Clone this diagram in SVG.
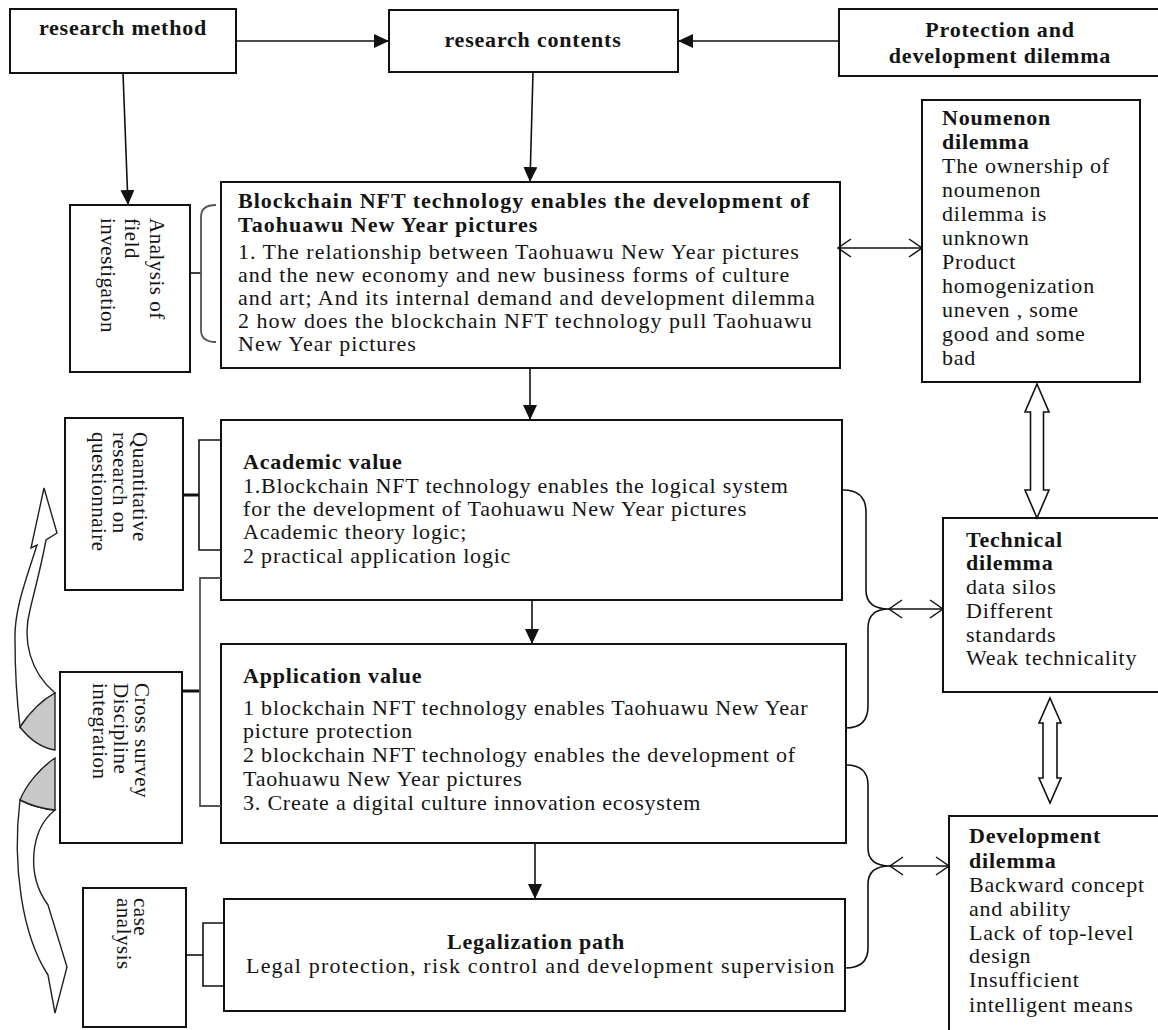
<svg xmlns="http://www.w3.org/2000/svg" width="1158" height="1030" viewBox="0 0 1158 1030">
<style>
.box{fill:#fff;stroke:#111;stroke-width:2}
.t{font-family:"Liberation Serif","Times New Roman",serif;font-size:22px;letter-spacing:0.8px;fill:#141414}
.b{font-weight:bold}
.w{letter-spacing:1px}
.r{font-size:21px;letter-spacing:0.5px}
.ln{stroke:#111;stroke-width:1.6;fill:none}
.gl{stroke:#555;stroke-width:1.8;fill:none}
.stub{stroke:#111;stroke-width:3;fill:none}
.hol{fill:#fff;stroke:#111;stroke-width:1.6}
.ca{fill:#fff;stroke:#222;stroke-width:1.4}
.cg{fill:#c8c8c8;stroke:#222;stroke-width:1.4}
</style>
<defs>
<marker id="ah" markerUnits="userSpaceOnUse" markerWidth="16" markerHeight="14" refX="15" refY="7" orient="auto"><path d="M0,0 L15,7 L0,14 Z" fill="#111"/></marker>
<marker id="oa" markerUnits="userSpaceOnUse" markerWidth="16" markerHeight="22" refX="14" refY="11" orient="auto-start-reverse"><path d="M1,2 L14,11 L1,20" fill="none" stroke="#111" stroke-width="1.5"/></marker>
</defs>

<g id="research-method"><rect class="box" x="10" y="9" width="226" height="64"/><text class="t b" x="123" y="35" text-anchor="middle">research method</text></g>
<g id="research-contents"><rect class="box" x="389" y="10" width="289" height="62"/><text class="t b" x="533" y="47" text-anchor="middle">research contents</text></g>
<g id="protection"><rect class="box" x="839" y="9" width="325" height="67"/><text class="t b" text-anchor="middle"><tspan x="1000" y="37">Protection and</tspan><tspan x="1000" y="63">development dilemma</tspan></text></g>

<g id="blockchain"><rect class="box" x="221" y="182" width="619" height="186"/>
<text class="t w"><tspan class="b" x="238" y="208">Blockchain NFT technology enables the development of</tspan><tspan class="b" x="238" y="232">Taohuawu New Year pictures</tspan><tspan x="238" y="259">1. The relationship between Taohuawu New Year pictures</tspan><tspan x="238" y="282">and the new economy and new business forms of culture</tspan><tspan x="238" y="305">and art; And its internal demand and development dilemma</tspan><tspan x="238" y="328">2 how does the blockchain NFT technology pull Taohuawu</tspan><tspan x="238" y="351">New Year pictures</tspan></text></g>

<g id="academic"><rect class="box" x="221" y="420" width="621" height="180"/>
<text class="t"><tspan class="b" x="243" y="469">Academic value</tspan><tspan x="243" y="493">1.Blockchain NFT technology enables the logical system</tspan><tspan x="243" y="516">for the development of Taohuawu New Year pictures</tspan><tspan x="243" y="539">Academic theory logic;</tspan><tspan x="243" y="563">2 practical application logic</tspan></text></g>

<g id="application"><rect class="box" x="221" y="644" width="625" height="199"/>
<text class="t"><tspan class="b" x="243" y="683">Application value</tspan><tspan x="243" y="715">1 blockchain NFT technology enables Taohuawu New Year</tspan><tspan x="243" y="738">picture protection</tspan><tspan x="243" y="762">2 blockchain NFT technology enables the development of</tspan><tspan x="243" y="786">Taohuawu New Year pictures</tspan><tspan x="243" y="810">3. Create a digital culture innovation ecosystem</tspan></text></g>

<g id="legalization"><rect class="box" x="224" y="899" width="621" height="112"/>
<text class="t b" x="536" y="949" text-anchor="middle">Legalization path</text>
<text class="t" x="246" y="973" style="letter-spacing:1.2px">Legal protection, risk control and development supervision</text></g>

<g id="analysis"><rect class="box" x="70" y="205" width="120" height="167"/>
<text class="t r" transform="rotate(90 150 218)" x="150" y="218">Analysis of</text>
<text class="t r" transform="rotate(90 125 218)" x="125" y="218">field</text>
<text class="t r" transform="rotate(90 101 218)" x="101" y="218">investigation</text></g>

<g id="quantitative"><rect class="box" x="65" y="418" width="118" height="172"/>
<text class="t r" transform="rotate(90 133 432)" x="133" y="432">Quantitative</text>
<text class="t r" transform="rotate(90 113 432)" x="113" y="432">research on</text>
<text class="t r" transform="rotate(90 92 432)" x="92" y="432">questionnaire</text></g>

<g id="cross-survey"><rect class="box" x="60" y="672" width="122" height="171"/>
<text class="t r" transform="rotate(90 135 683)" x="135" y="683">Cross survey</text>
<text class="t r" transform="rotate(90 114 683)" x="114" y="683">Discipline</text>
<text class="t r" transform="rotate(90 93 683)" x="93" y="683">integration</text></g>

<g id="case-analysis"><rect class="box" x="83" y="888" width="103" height="139"/>
<text class="t r" transform="rotate(90 134 898)" x="134" y="898">case</text>
<text class="t r" transform="rotate(90 117 898)" x="117" y="898">analysis</text></g>

<g id="noumenon"><rect class="box" x="922" y="100" width="218" height="282"/>
<text class="t"><tspan class="b" x="942" y="125">Noumenon</tspan><tspan class="b" x="942" y="149">dilemma</tspan><tspan x="942" y="173">The ownership of</tspan><tspan x="942" y="197">noumenon</tspan><tspan x="942" y="221">dilemma is</tspan><tspan x="942" y="245">unknown</tspan><tspan x="942" y="269">Product</tspan><tspan x="942" y="293">homogenization</tspan><tspan x="942" y="317">uneven , some</tspan><tspan x="942" y="341">good and some</tspan><tspan x="942" y="365">bad</tspan></text></g>

<g id="technical"><rect class="box" x="943" y="518" width="222" height="174"/>
<text class="t"><tspan class="b" x="966" y="547">Technical</tspan><tspan class="b" x="966" y="570">dilemma</tspan><tspan x="966" y="594">data silos</tspan><tspan x="966" y="618">Different</tspan><tspan x="966" y="642">standards</tspan><tspan x="966" y="665">Weak technicality</tspan></text></g>

<g id="development"><rect class="box" x="949" y="816" width="216" height="230"/>
<text class="t"><tspan class="b" x="969" y="843">Development</tspan><tspan class="b" x="969" y="868">dilemma</tspan><tspan x="969" y="892">Backward concept</tspan><tspan x="969" y="916">and ability</tspan><tspan x="969" y="940">Lack of top-level</tspan><tspan x="969" y="963">design</tspan><tspan x="969" y="987">Insufficient</tspan><tspan x="969" y="1012">intelligent means</tspan></text></g>

<g id="connectors">
<line class="ln" x1="236" y1="41" x2="389" y2="41" marker-end="url(#ah)"/>
<line class="ln" x1="839" y1="41" x2="678" y2="41" marker-end="url(#ah)"/>
<line class="ln" x1="123" y1="73" x2="128" y2="205" marker-end="url(#ah)"/>
<line class="ln" x1="533" y1="72" x2="530" y2="182" marker-end="url(#ah)"/>
<line class="ln" x1="530" y1="368" x2="530" y2="420" marker-end="url(#ah)"/>
<line class="ln" x1="532" y1="600" x2="532" y2="644" marker-end="url(#ah)"/>
<line class="ln" x1="535" y1="843" x2="535" y2="899" marker-end="url(#ah)"/>
<line class="ln" x1="838" y1="248" x2="922" y2="248" marker-start="url(#oa)" marker-end="url(#oa)"/>
<path class="ln" d="M843,490 Q866,490 866,512 L866,590 Q866,609 889,609 Q868,609 868,628 L868,706 Q868,728 846,728"/>
<line class="ln" x1="889" y1="609" x2="943" y2="609" marker-start="url(#oa)" marker-end="url(#oa)"/>
<path class="ln" d="M846,765 Q868,765 868,785 L868,848 Q868,866 890,866 Q868,866 868,884 L868,948 Q868,968 845,968"/>
<line class="ln" x1="890" y1="866" x2="949" y2="866" marker-start="url(#oa)" marker-end="url(#oa)"/>
<path class="hol" d="M1037,384 L1049,412 L1043.5,412 L1043.5,490 L1049,490 L1037,518 L1025,490 L1030.5,490 L1030.5,412 L1025,412 Z"/>
<path class="hol" d="M1050,698 L1061,723 L1057,723 L1057,778 L1061,778 L1050,803 L1039,778 L1043,778 L1043,723 L1039,723 Z"/>
<line class="ln" x1="190" y1="273" x2="201" y2="273"/>
<path class="gl" d="M216,205 Q201,205 201,217 L201,330 Q201,342 216,342"/>
<line class="stub" x1="183" y1="495" x2="199" y2="495"/>
<path class="ln" d="M221,440 L199,440 L199,550 L221,550"/>
<line class="stub" x1="182" y1="691" x2="200" y2="691"/>
<path class="gl" d="M221,578 L200,578 L200,806 L221,806"/>
<line class="ln" x1="186" y1="955" x2="203" y2="955"/>
<path class="ln" d="M224,923 L203,923 L203,986 L224,986"/>
<path class="ca" d="M55,693 C30,672 22,640 30,610 C34,592 40,572 46,540 L57,533 L44,488 L31,548 L37,545 C26,580 14,610 15,640 C15,680 18,710 20,727 C30,712 42,700 55,693 Z"/>
<path class="cg" d="M55,693 C42,700 30,712 20,727 C30,740 42,748 55,750 Z"/>
<path class="ca" d="M55,810 C30,830 26,875 48,905 L67,967 L55,1013 L48,975 C22,935 12,865 20,800 C32,806 44,809 55,810 Z"/>
<path class="cg" d="M55,758 C40,768 26,785 20,800 C32,806 44,809 55,810 Z"/>
</g>
</svg>
